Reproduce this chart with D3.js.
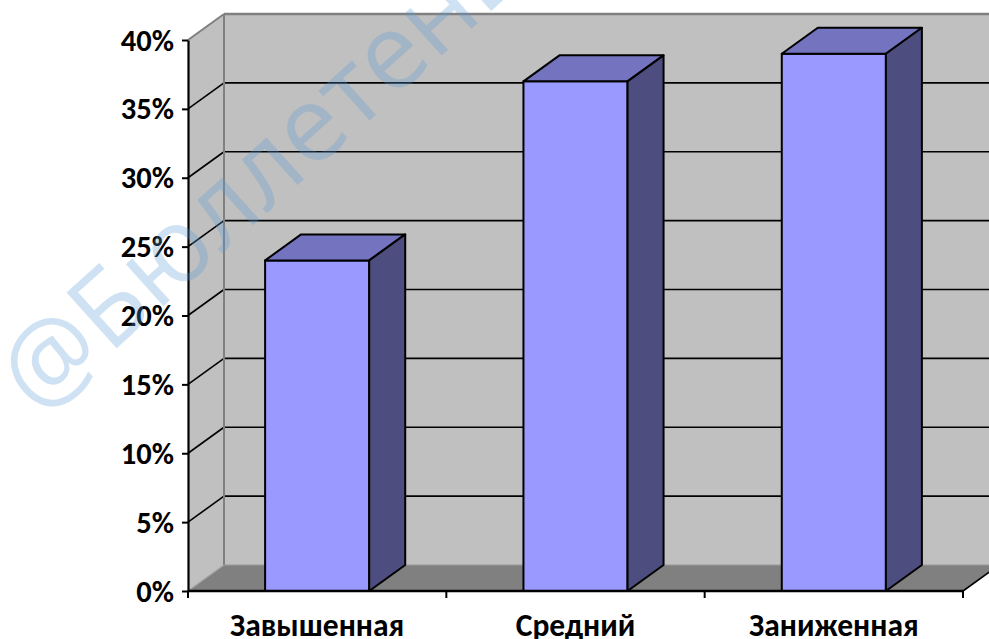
<!DOCTYPE html>
<html>
<head>
<meta charset="utf-8">
<script src="https://cdn.jsdelivr.net/npm/d3@7"></script>
<style>
  html, body { margin: 0; padding: 0; background: #ffffff; }
  svg { display: block; }
</style>
</head>
<body>
<svg id="chart" width="989" height="639"></svg>
<script>
// ---- data ----
const categories = ["Завышенная", "Средний", "Заниженная"];
const values = [0.24, 0.37, 0.39];
const yTicks = [0, 0.05, 0.10, 0.15, 0.20, 0.25, 0.30, 0.35, 0.40];
const watermarkText = "@Бюллетень";

// ---- layout ----
const W = 989, H = 639;
const x0 = 188, x1 = 963, yBottom = 591, yTop = 40;
const dX = 36, dY = -26;          // depth offset for 3D
const barFrac = 0.403;

const svg = d3.select("#chart");
const y = d3.scaleLinear().domain([0, 0.4]).range([yBottom, yTop]);
const x = d3.scaleBand().domain(categories).range([x0, x1]).padding(0);

const pts = a => a.map(p => p.join(",")).join(" ");

svg.append("defs").append("clipPath").attr("id", "clip")
  .append("rect").attr("x", 0).attr("y", 0).attr("width", W).attr("height", H);

const g = svg.append("g").attr("clip-path", "url(#clip)");

// back wall
g.append("polygon")
  .attr("points", pts([[x0 + dX, y(0.4) + dY], [x1 + dX + 40, y(0.4) + dY], [x1 + dX + 40, y(0) + dY], [x0 + dX, y(0) + dY]]))
  .attr("fill", "#c0c0c0");
// left side wall
g.append("polygon")
  .attr("points", pts([[x0, y(0.4)], [x0 + dX, y(0.4) + dY], [x0 + dX, y(0) + dY], [x0, y(0)]]))
  .attr("fill", "#c0c0c0");
// floor
g.append("polygon")
  .attr("points", pts([[x0, y(0)], [x1, y(0)], [x1 + dX, y(0) + dY], [x1 + dX + 40, y(0) + dY], [x0 + dX, y(0) + dY]]))
  .attr("fill", "#808080");

// gridlines (back + side)
const inner = yTicks.filter(v => v > 0 && v < 0.4);
g.selectAll(".gridBack").data(inner).enter().append("line")
  .attr("x1", x0 + dX).attr("x2", W + 5)
  .attr("y1", d => y(d) + dY).attr("y2", d => y(d) + dY)
  .attr("stroke", "#000").attr("stroke-width", 1.6);
g.selectAll(".gridSide").data(inner).enter().append("line")
  .attr("x1", x0).attr("x2", x0 + dX)
  .attr("y1", d => y(d)).attr("y2", d => y(d) + dY)
  .attr("stroke", "#000").attr("stroke-width", 1.6);

// wall borders (gray)
const gray = "#808080";
g.append("line").attr("x1", x0 + dX).attr("x2", W + 5).attr("y1", y(0.4) + dY).attr("y2", y(0.4) + dY)
  .attr("stroke", gray).attr("stroke-width", 2.5);
g.append("line").attr("x1", x0).attr("x2", x0 + dX).attr("y1", y(0.4)).attr("y2", y(0.4) + dY)
  .attr("stroke", gray).attr("stroke-width", 2);
g.append("line").attr("x1", x0 + dX).attr("x2", x0 + dX).attr("y1", y(0.4) + dY).attr("y2", y(0) + dY)
  .attr("stroke", gray).attr("stroke-width", 2);
g.append("line").attr("x1", x0 + dX).attr("x2", W + 5).attr("y1", y(0) + dY).attr("y2", y(0) + dY)
  .attr("stroke", "#999").attr("stroke-width", 1.2);
g.append("line").attr("x1", x0).attr("x2", x0 + dX).attr("y1", y(0)).attr("y2", y(0) + dY)
  .attr("stroke", "#a0a0a0").attr("stroke-width", 1.2);
g.append("line").attr("x1", x1).attr("x2", x1 + dX).attr("y1", y(0)).attr("y2", y(0) + dY)
  .attr("stroke", "#000").attr("stroke-width", 1.6);

// bars
const bars = g.selectAll(".bar").data(categories.map((c, i) => ({ c, v: values[i] })))
  .enter().append("g").attr("class", "bar");
const bw = x.bandwidth() * barFrac;
const bl = d => x(d.c) + (x.bandwidth() - bw) / 2;
bars.append("polygon") // front
  .attr("points", d => pts([[bl(d), y(d.v)], [bl(d) + bw, y(d.v)], [bl(d) + bw, y(0)], [bl(d), y(0)]]))
  .attr("fill", "#9999ff").attr("stroke", "#000").attr("stroke-width", 2).attr("stroke-linejoin", "round");
bars.append("polygon") // top
  .attr("points", d => pts([[bl(d), y(d.v)], [bl(d) + dX, y(d.v) + dY], [bl(d) + bw + dX, y(d.v) + dY], [bl(d) + bw, y(d.v)]]))
  .attr("fill", "#7373bf").attr("stroke", "#000").attr("stroke-width", 2).attr("stroke-linejoin", "round");
bars.append("polygon") // side
  .attr("points", d => pts([[bl(d) + bw, y(d.v)], [bl(d) + bw + dX, y(d.v) + dY], [bl(d) + bw + dX, y(0) + dY], [bl(d) + bw, y(0)]]))
  .attr("fill", "#4d4d80").attr("stroke", "#000").attr("stroke-width", 2).attr("stroke-linejoin", "round");

// y axis
const fontFam = "Carlito, Calibri, Lato, 'Open Sans', sans-serif";
const yAxis = svg.append("g").attr("transform", `translate(${x0},0)`)
  .call(d3.axisLeft(y).tickValues(yTicks).tickFormat(d3.format(".0%")).tickSize(6).tickSizeOuter(0).tickPadding(8));
yAxis.select(".domain").attr("stroke", "#000").attr("stroke-width", 2.2);
yAxis.selectAll(".tick line").attr("stroke", "#000").attr("stroke-width", 2);
yAxis.selectAll(".tick text")
  .attr("font-family", fontFam).attr("font-weight", "bold").attr("font-size", 30.5)
  .attr("fill", "#000").attr("dy", "0.33em");

// x axis
const xAxis = svg.append("g").attr("transform", `translate(0,${yBottom})`)
  .call(d3.axisBottom(x).tickSize(0).tickPadding(0));
xAxis.select(".domain").remove();
xAxis.selectAll(".tick text")
  .attr("font-family", fontFam).attr("font-weight", "bold").attr("font-size", 31.5).attr("fill", "#000")
  .attr("dy", null).attr("y", 45);
svg.append("line").attr("x1", x0).attr("x2", x1).attr("y1", yBottom).attr("y2", yBottom)
  .attr("stroke", "#000").attr("stroke-width", 2.6);
const bounds = categories.map(c => x(c)).concat([x.range()[1]]);
svg.selectAll(".xb").data(bounds).enter().append("line")
  .attr("x1", d => d).attr("x2", d => d).attr("y1", yBottom).attr("y2", yBottom + 7)
  .attr("stroke", "#000").attr("stroke-width", 2);

// watermark
svg.append("text")
  .attr("transform", "translate(39,418) rotate(-42)")
  .attr("font-family", "'Open Sans', 'DejaVu Sans', sans-serif")
  .attr("font-size", 105)
  .attr("fill", "#5b9bd5").attr("fill-opacity", 0.29)
  .text(watermarkText);
</script>
</body>
</html>
